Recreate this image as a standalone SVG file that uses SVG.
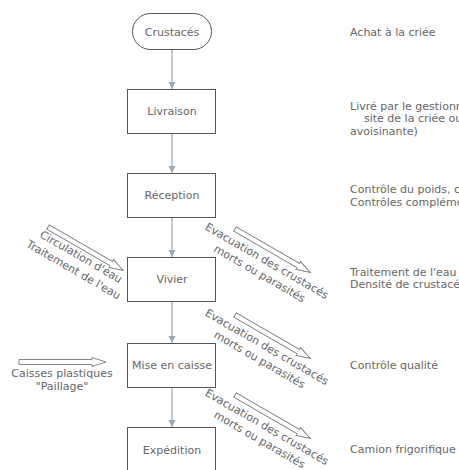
<svg xmlns="http://www.w3.org/2000/svg" width="459" height="470" viewBox="0 0 459 470">
<defs>
<style>
text{font-family:"DejaVu Sans","Verdana",sans-serif;font-size:11px;fill:#666}
.node{fill:#fff;stroke:#555;stroke-width:1}
.mid{text-anchor:middle}
.conn{stroke:#98a9b5;stroke-width:1.2;fill:none}
.hollow{fill:#fff;stroke:#777;stroke-width:0.9}
</style>
<marker id="ah" markerWidth="8" markerHeight="8" refX="7" refY="4" orient="auto" markerUnits="userSpaceOnUse">
<path d="M0,0.5 L7,4 L0,7.5 Z" fill="#98a9b5"/>
</marker>
<path id="harrow" d="M0,-2.5 L73,-2.5 L73,-4.5 L87,0 L73,4.5 L73,2.5 L0,2.5 Z"/>
</defs>
<rect width="459" height="470" fill="#fff"/>
<g id="connectors">
<line class="conn" x1="172" y1="50" x2="172" y2="89" marker-end="url(#ah)"/>
<line class="conn" x1="172" y1="134" x2="172" y2="173" marker-end="url(#ah)"/>
<line class="conn" x1="172" y1="218" x2="172" y2="257" marker-end="url(#ah)"/>
<line class="conn" x1="172" y1="302" x2="172" y2="343" marker-end="url(#ah)"/>
<line class="conn" x1="172" y1="387" x2="172" y2="427" marker-end="url(#ah)"/>
</g>
<g id="n-crustaces">
<rect class="node" x="132.5" y="13.5" width="79" height="36" rx="18"/>
<text class="mid" x="172" y="36">Crustacés</text>
</g>
<g id="n-livraison">
<rect class="node" x="127.5" y="89.5" width="88" height="44"/>
<text class="mid" x="172" y="115">Livraison</text>
</g>
<g id="n-reception">
<rect class="node" x="127.5" y="173.5" width="88" height="44"/>
<text class="mid" x="172" y="199">Réception</text>
</g>
<g id="n-vivier">
<rect class="node" x="127.5" y="257.5" width="88" height="44"/>
<text class="mid" x="172" y="283">Vivier</text>
</g>
<g id="n-mise">
<rect class="node" x="127.5" y="343.5" width="88" height="44"/>
<text class="mid" x="172" y="369">Mise en caisse</text>
</g>
<g id="n-expedition">
<rect class="node" x="127.5" y="427.5" width="88" height="46"/>
<text class="mid" x="172" y="454">Expédition</text>
</g>
<g id="in-eau" transform="translate(48,227) rotate(30)">
<use href="#harrow" class="hollow"/>
<text class="mid" x="43.5" y="13">Circulation d'eau</text>
<text class="mid" x="43.5" y="28">Traitement de l'eau</text>
</g>
<g id="in-caisses">
<use href="#harrow" class="hollow" transform="translate(19,362)"/>
<text class="mid" x="62" y="377">Caisses plastiques</text>
<text class="mid" x="62" y="390">"Paillage"</text>
</g>
<g id="out-1" transform="translate(235,229) rotate(30)">
<use href="#harrow" class="hollow"/>
<text class="mid" x="43.5" y="15.5">Evacuation des crustacés</text>
<text class="mid" x="43.5" y="30">morts ou parasités</text>
</g>
<g id="out-2" transform="translate(235,315) rotate(30)">
<use href="#harrow" class="hollow"/>
<text class="mid" x="43.5" y="15.5">Evacuation des crustacés</text>
<text class="mid" x="43.5" y="30">morts ou parasités</text>
</g>
<g id="out-3" transform="translate(235,395) rotate(30)">
<use href="#harrow" class="hollow"/>
<text class="mid" x="43.5" y="15.5">Evacuation des crustacés</text>
<text class="mid" x="43.5" y="30">morts ou parasités</text>
</g>
<g id="notes">
<text x="350" y="36">Achat à la criée</text>
<text x="350" y="110">Livré par le gestionnaire</text>
<text x="350" y="122" xml:space="preserve">    site de la criée ou</text>
<text x="350" y="135">avoisinante)</text>
<text x="350" y="193">Contrôle du poids, calibre</text>
<text x="350" y="206">Contrôles complémentaires</text>
<text x="350" y="276">Traitement de l'eau</text>
<text x="350" y="288">Densité de crustacés</text>
<text x="350" y="369">Contrôle qualité</text>
<text x="350" y="453">Camion frigorifique</text>
</g>
</svg>
